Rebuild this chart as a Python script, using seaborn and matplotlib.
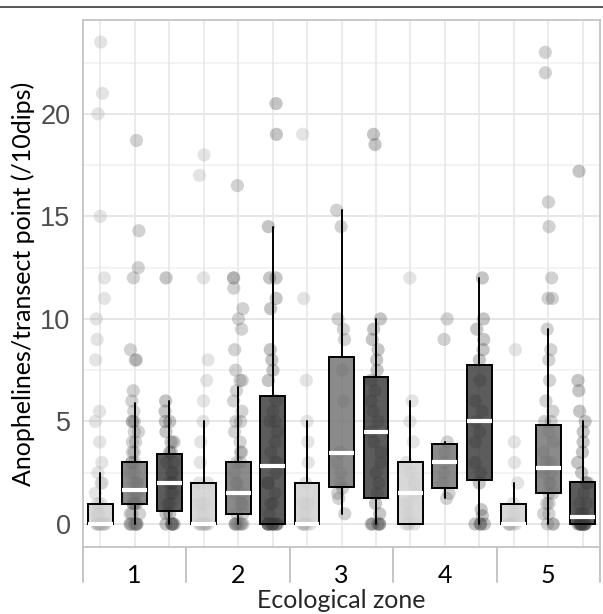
import numpy as np
import pandas as pd
import matplotlib
matplotlib.use("Agg")
import matplotlib.pyplot as plt
import seaborn as sns
from matplotlib.colors import to_rgba
from matplotlib.lines import Line2D

# Raw values per zone and per series (light / medium / dark)
zone1_light = [23.5, 21, 20, 15, 12, 11, 10, 9, 8, 5.5, 5, 4, 3, 2.5, 2, 2, 1.5, 1, 1,
               0.5, 0.5, 0, 0, 0, 0, 0, 0, 0, 0, 0, 0]
zone1_mid = [18.7, 14.3, 12.5, 12, 8.5, 8, 8, 6.5, 6, 5.5, 5, 5, 5, 4.5, 4.5, 4, 4, 3.5,
             3.5, 3, 3, 3, 2.5, 2.5, 2, 2, 2, 1.5, 1.5, 1.5, 1, 1, 1, 1, 1, 0.5, 0.5, 0.5,
             0, 0, 0, 0, 0, 0, 0, 0]
zone1_dark = [12, 6, 5.5, 5, 5, 4.5, 4, 4, 3.5, 3.5, 3, 3, 2.5, 2.5, 2, 2, 2, 1.5, 1.5,
              1, 1, 0.5, 0.5, 0, 0, 0, 0, 0]
zone2_light = [18, 17, 12, 8, 7, 6, 5, 4, 3, 2, 2, 1, 1, 0.5, 0, 0, 0, 0, 0, 0, 0, 0]
zone2_mid = [16.5, 12, 12, 11.5, 10.5, 10, 9.5, 8.5, 7.5, 7, 7, 6.5, 6, 5.5, 5, 5, 4.5,
             4, 3.5, 3.5, 3, 3, 2.5, 2, 2, 1.5, 1.5, 1, 1, 0.5, 0.5, 0, 0, 0, 0, 0, 0, 0]
zone2_dark = [20.5, 19, 14.5, 12, 12, 11, 10.5, 8.5, 8, 7.5, 7, 6, 5.5, 5, 5, 4.5, 4,
              3.5, 3, 3, 2.5, 2, 2, 1.5, 1, 1, 0.5, 0, 0, 0, 0, 0, 0, 0, 0, 0, 0, 0]
zone3_light = [19, 11, 7, 5, 4, 3, 2, 1, 1, 0.5, 0, 0, 0, 0, 0, 0]
zone3_mid = [15.3, 14.5, 10, 9.5, 9, 7.5, 6, 3.5, 3, 2.5, 2, 1.75, 1.5, 1.25, 0.5]
zone3_dark = [19, 18.5, 10, 9.5, 9, 8.5, 8, 7.5, 7, 6.5, 6, 5.5, 5, 4.5, 4, 3.5, 3, 2.5,
              2, 1.5, 1, 0.5, 0, 0, 0, 0, 0]
zone4_light = [12, 6, 5, 4, 3, 2.5, 2, 1.5, 1, 0.5, 0, 0, 0]
zone4_mid = [10, 9, 4, 3.5, 3, 2.5, 2, 1.5, 1.25]
zone4_dark = [12, 10, 9.5, 9, 8.5, 8, 7, 6, 5.5, 5, 4.5, 4, 3, 2.5, 2, 0.7, 0.4,
              0, 0, 0, 0]
zone5_light = [8.5, 4, 3, 2, 1, 0.5, 0, 0, 0, 0, 0, 0]
zone5_mid = [23, 22, 15.7, 14.5, 12, 11, 11, 9.5, 8.5, 8, 7, 6, 5.5, 5, 5, 4.5, 4, 3.5,
             3, 3, 2.5, 2.5, 2, 2, 1.5, 1.5, 1, 1, 0.5, 0.5, 0, 0, 0]
zone5_dark = [17.2, 7, 6.5, 5.5, 5, 4.5, 4, 3.5, 3, 2.5, 2, 2, 1.5, 1, 1, 0.5, 0.5, 0.5,
              0, 0, 0, 0, 0, 0, 0, 0, 0, 0, 0, 0]

# Box statistics for the 15 boxes (zone by zone, light/mid/dark)
box_q1 = [0, 1.0, 0.65, 0, 0.5, 0, 0, 1.8, 1.25, 0, 1.75, 2.15, 0, 1.5, 0]
box_med = [0, 1.65, 2.0, 0, 1.5, 2.85, 0, 3.45, 4.5, 1.5, 3.0, 5.0, 0, 2.75, 0.35]
box_q3 = [1.0, 3.0, 3.4, 2.0, 3.0, 6.25, 2.0, 8.15, 7.15, 3.0, 3.9, 7.75, 1.0, 4.85, 2.05]
box_lo = [0, 0, 0, 0, 0, 0, 0, 0.5, 0, 0, 1.25, 0, 0, 0, 0]
box_hi = [2.5, 5.9, 6.0, 5.0, 6.7, 14.5, 5.0, 15.3, 10.0, 6.0, 4.0, 12.0, 2.0, 9.5, 5.0]

zones = ["1", "2", "3", "4", "5"]
series = ["light", "mid", "dark"]
values = [zone1_light, zone1_mid, zone1_dark, zone2_light, zone2_mid, zone2_dark,
          zone3_light, zone3_mid, zone3_dark, zone4_light, zone4_mid, zone4_dark,
          zone5_light, zone5_mid, zone5_dark]

rows = []
for i, vals in enumerate(values):
    for v in vals:
        rows.append({"pos": i, "series": series[i % 3], "value": v})
df = pd.DataFrame(rows)

point_colors = {"light": "#a8a8a8", "mid": "#6a6a6a", "dark": "#404040"}
box_colors = ["#d0d0d0", "#727272", "#383838"]

sns.set_style("white")
plt.rcParams["font.family"] = ["Lato", "DejaVu Sans"]

fig = plt.figure(figsize=(6.03, 6.14), dpi=100)
ax = fig.add_axes([83 / 603, 1 - 547 / 614, 517 / 603, 526.5 / 614])

np.random.seed(3)
sns.stripplot(data=df, x="pos", y="value", hue="series", palette=point_colors,
              native_scale=True, jitter=0.15, size=9.5, alpha=0.3, linewidth=0,
              legend=False, ax=ax, zorder=1)

stats = []
for i in range(15):
    stats.append({"q1": box_q1[i], "med": box_med[i], "q3": box_q3[i],
                  "whislo": box_lo[i], "whishi": box_hi[i], "fliers": []})
bp = ax.bxp(stats, positions=list(range(15)), widths=0.72, patch_artist=True,
            showfliers=False, showcaps=False,
            boxprops=dict(edgecolor="black", linewidth=1.4, zorder=3),
            whiskerprops=dict(color="black", linewidth=1.4, zorder=3),
            medianprops=dict(color="white", linewidth=3, zorder=4))
for i, patch in enumerate(bp["boxes"]):
    patch.set_facecolor(to_rgba(box_colors[i % 3], 0.82))

ax.set_xlim(-0.5, 14.5)
ax.set_ylim(-1.12, 24.55)

# grid
ax.set_yticks([0, 5, 10, 15, 20])
ax.set_yticks([2.5, 7.5, 12.5, 17.5, 22.5], minor=True)
for y in [0, 5, 10, 15, 20]:
    ax.axhline(y, color="#e4e4e4", lw=1.3, zorder=0)
for y in [2.5, 7.5, 12.5, 17.5, 22.5]:
    ax.axhline(y, color="#f0f0f0", lw=1.1, zorder=0)
for x in range(15):
    ax.axvline(x, color="#e8e8e8", lw=1.2, zorder=0)

ax.set_yticklabels(["0", "5", "10", "15", "20"], family="Liberation Sans",
                   fontsize=19.5, color="#4d4d4d")
ax.tick_params(axis="y", which="major", length=8, width=1.2, color="#a8a8a8", pad=1)
ax.tick_params(axis="y", which="minor", length=0)

# x axis: zone labels, small ticks at each box, long separators between zones
ax.xaxis.remove_overlapping_locs = False
ax.set_xticks([1, 4, 7, 10, 13])
ax.set_xticklabels(zones, fontsize=18, color="black")
ax.set_xticks(list(range(15)), minor=True)
ax.tick_params(axis="x", which="major", length=0, pad=12)
ax.tick_params(axis="x", which="minor", length=4.5, width=1.2, color="#b4b4b4")
for xs in [-0.5, 2.5, 5.5, 8.5, 11.5, 14.5]:
    ax.plot([xs, xs], [0, -0.066], transform=ax.get_xaxis_transform(),
            clip_on=False, color="#c4c4c4", lw=1.4)

for sp in ax.spines.values():
    sp.set_color("#c4c4c4")
    sp.set_linewidth(1.3)

ax.set_xlabel("")
ax.set_ylabel("Anophelines/transect point (/10dips)", fontsize=18, color="black",
              labelpad=4)
fig.text(341 / 603, 6 / 614, "Ecological zone", fontsize=18, ha="center",
         va="baseline")

# thin rule at the very top of the figure
fig.add_artist(Line2D([0, 1], [1 - 7 / 614, 1 - 7 / 614], color="#555555", lw=1.4))

fig.savefig("out.png", dpi=100)
